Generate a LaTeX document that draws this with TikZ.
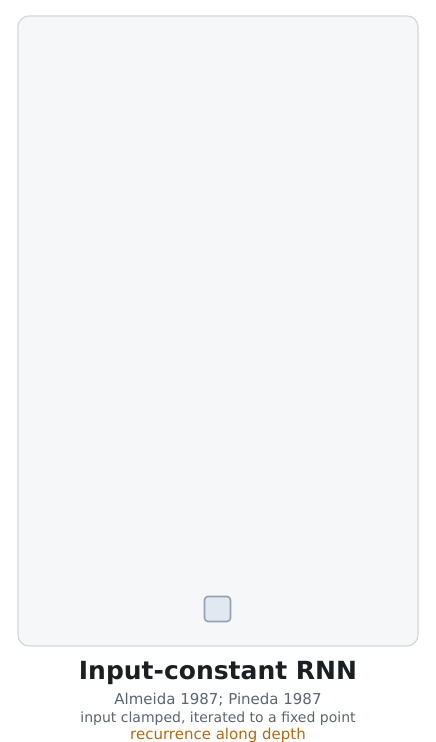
\documentclass[tikz,border=0pt]{standalone}
\usepackage{fontspec}
\setmainfont{DejaVu Sans}
\usepackage{tikz}
\usetikzlibrary{positioning}
\definecolor{panelfill}{HTML}{F6F7F9}
\definecolor{panelline}{HTML}{D3D7DC}
\definecolor{unitfill}{HTML}{E2E8F0}
\definecolor{unitline}{HTML}{91A2B5}
\definecolor{titlecol}{HTML}{1A1F24}
\definecolor{subcol}{HTML}{5B6570}
\definecolor{notecol}{HTML}{B06A12}

\begin{document}
\begin{tikzpicture}[x=1pt,y=1pt,
    panel/.style={draw=panelline,fill=panelfill,line width=1.2pt,rounded corners=11pt},
    unit/.style={draw=unitline,fill=unitfill,line width=1.6pt,rounded corners=3.5pt,minimum width=26pt,minimum height=25pt,inner sep=0pt},
    subline/.style={text=subcol,font=\fontsize{15}{17}\selectfont,inner sep=0pt}]
            \useasboundingbox (0,0) rectangle (436,742);
            \draw[panel] (18,96) rectangle (418,726);
            \node[unit] (h) at (217.5,133) {};
            \node[font=\bfseries\fontsize{25}{28}\selectfont,text=titlecol,inner sep=0pt] (title) at (218,69) {Input-constant RNN};
            \node[subline] (cite) at (218,42) {Almeida 1987; Pineda 1987};
            \node[subline,font=\fontsize{14}{16}\selectfont] (desc) at (218,23.5) {input clamped, iterated to a fixed point};
            \node[subline,text=notecol] (note) at (218,6.8) {recurrence along depth};
        \end{tikzpicture}
\end{document}
